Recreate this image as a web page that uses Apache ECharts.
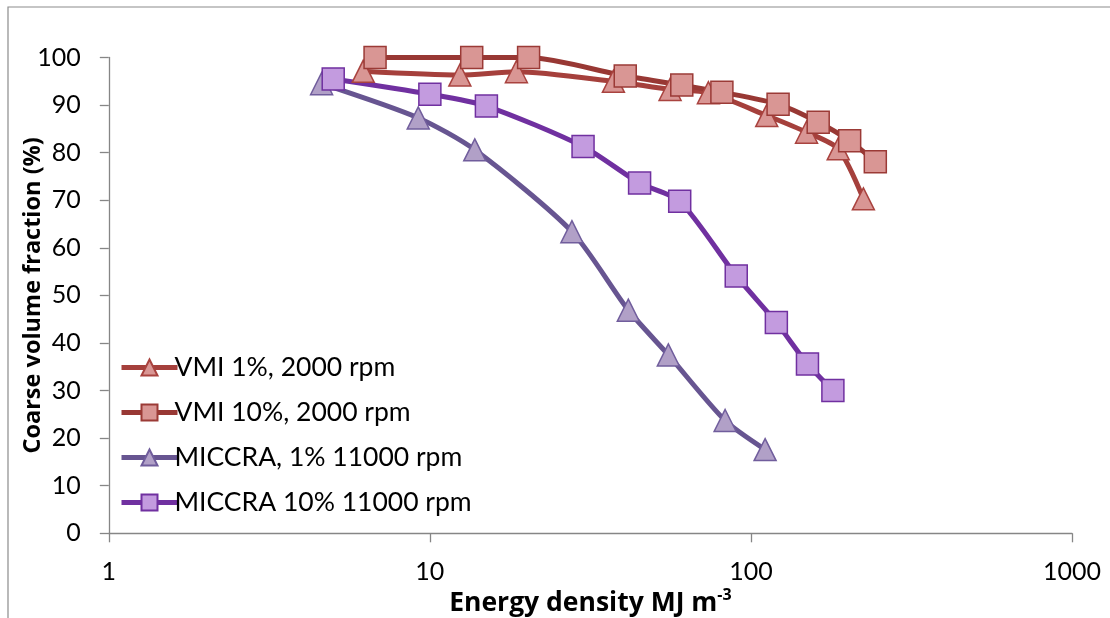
<!DOCTYPE html>
<html>
<head>
<meta charset="utf-8">
<script src="https://cdn.jsdelivr.net/npm/echarts@6/dist/echarts.min.js"></script>
<style>
html,body{margin:0;padding:0;background:#fff;}
#chart{width:1110px;height:618px;}
</style>
</head>
<body>
<div id="chart"></div>
<script>
// ---- data ----
const seriesNames = ['VMI 1%, 2000 rpm', 'VMI 10%, 2000 rpm', 'MICCRA, 1% 11000 rpm', 'MICCRA 10% 11000 rpm'];
const vmi1X = [6.2, 12.4, 18.6, 37.3, 56, 73.7, 112, 149, 187, 224];
const vmi1Y = [97.1, 96.3, 97.0, 95.0, 93.3, 92.6, 87.8, 84.3, 80.8, 70.3];
const vmi10X = [6.75, 13.5, 20.3, 40.6, 60.9, 81.2, 121.5, 162, 203, 244];
const vmi10Y = [100, 100, 100, 96.1, 94.2, 92.7, 90.2, 86.4, 82.5, 78.1];
const miccra1X = [4.6, 9.2, 13.8, 27.7, 41.5, 55.3, 83.1, 110.7];
const miccra1Y = [94.5, 87.3, 80.6, 63.4, 46.9, 37.5, 23.7, 17.6];
const miccra10X = [5, 10, 15, 30, 45, 60, 90, 120, 150, 180];
const miccra10Y = [95.5, 92.3, 89.8, 81.3, 73.6, 69.8, 54.1, 44.3, 35.6, 30.0];
const xTicks = [1, 10, 100, 1000];
const yTicks = [0, 10, 20, 30, 40, 50, 60, 70, 80, 90, 100];

function pairs(xs, ys) { return xs.map((x, i) => [x, ys[i]]); }

const FONT = 'Lato';
const TFONT = 'Open Sans';
const chart = echarts.init(document.getElementById('chart'), null, {renderer: 'canvas'});

function mk(name, data, lineColor, fill, border, symbol, size) {
  return {
    name: name, type: 'line', data: data,
    smooth: 0.25, clip: false,
    symbol: symbol, symbolSize: size,
    lineStyle: {color: lineColor, width: 5},
    itemStyle: {color: fill, borderColor: border, borderWidth: 1.5},
    emphasis: {disabled: true}
  };
}

chart.setOption({
  animation: false,
  backgroundColor: '#ffffff',
  graphic: [{
    type: 'rect', shape: {x: 8, y: 7, width: 1120, height: 640},
    style: {fill: 'none', stroke: '#8c8c8c', lineWidth: 1.2}, silent: true, z: -1
  }],
  grid: {left: 108.8, right: 38, top: 57.5, bottom: 84.7, containLabel: false, outerBoundsMode: 'none'},
  xAxis: {
    type: 'log', logBase: 10, min: 1, max: 1000,
    name: '{a|Energy density MJ m}{b|-3}',
    nameLocation: 'middle', nameGap: 54, nameMoveOverlap: false,
    nameTextStyle: {
      rich: {
        a: {fontFamily: TFONT, fontWeight: 'bold', fontSize: 26.5, color: '#000', verticalAlign: 'bottom'},
        b: {fontFamily: TFONT, fontWeight: 'bold', fontSize: 16, color: '#000', verticalAlign: 'top', padding: [0,0,14,0]}
      }
    },
    axisLine: {lineStyle: {color: '#868686', width: 1.3}},
    axisTick: {show: true, length: 9, lineStyle: {color: '#868686', width: 1.3}},
    minorTick: {show: false},
    splitLine: {show: false},
    axisLabel: {fontFamily: FONT, fontSize: 25, color: '#000', margin: 26,
      formatter: v => xTicks.includes(Math.round(v)) ? String(Math.round(v)) : ''}
  },
  yAxis: {
    type: 'value', min: 0, max: 100, interval: 10,
    name: 'Coarse volume fraction (%)',
    nameLocation: 'middle', nameGap: 63, nameRotate: 90, nameMoveOverlap: false,
    nameTextStyle: {fontFamily: TFONT, fontWeight: 'bold', fontSize: 23.5, color: '#000'},
    axisLine: {show: true, lineStyle: {color: '#868686', width: 1.3}},
    axisTick: {show: true, length: 9, lineStyle: {color: '#868686', width: 1.3}},
    splitLine: {show: false},
    axisLabel: {fontFamily: FONT, fontSize: 25, color: '#000', margin: 28,
      formatter: v => yTicks.includes(v) ? String(v) : ''}
  },
  legend: {
    orient: 'vertical', left: 114, top: 349,
    itemWidth: 56, itemHeight: 20, itemGap: 18,
    lineStyle: {width: 5},
    textStyle: {fontFamily: FONT, fontSize: 26.5, lineHeight: 26, color: '#000', padding: [0,0,0,-8]},
    data: seriesNames
  },
  series: [
    mk(seriesNames[0], pairs(vmi1X, vmi1Y), '#A5403C', '#D99694', '#A9433F', 'triangle', 22),
    mk(seriesNames[1], pairs(vmi10X, vmi10Y), '#983834', '#D99694', '#9B3A36', 'rect', 22),
    mk(seriesNames[2], pairs(miccra1X, miccra1Y), '#675591', '#B1A0C7', '#705D9C', 'triangle', 22),
    mk(seriesNames[3], pairs(miccra10X, miccra10Y), '#7030A0', '#C39BDF', '#7030A0', 'rect', 22)
  ]
});
</script>
</body>
</html>
